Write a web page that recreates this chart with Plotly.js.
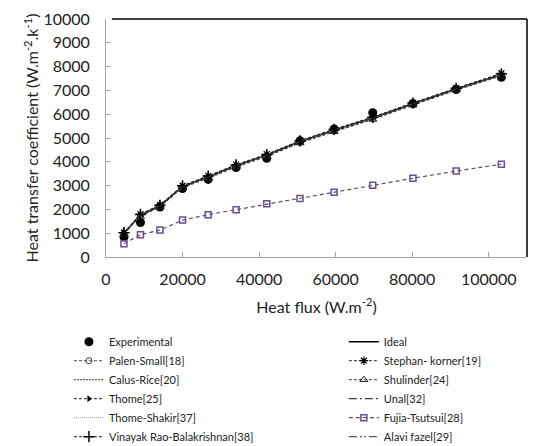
<!DOCTYPE html>
<html>
<head>
<meta charset="utf-8">
<script src="https://cdn.plot.ly/plotly-3.0.1.min.js"></script>
<style>html,body{margin:0;padding:0;background:#fff}#chart{width:544px;height:446px}</style>
</head>
<body>
<div id="chart"></div>
<script>
// Heat flux (W.m-2)
const heatFlux = [4700, 9000, 14100, 20000, 26700, 34000, 42000, 50700, 59600, 69700, 80200, 91500, 103300];
// Heat transfer coefficient (W.m-2.K-1)
const experimental = [840, 1450, 2100, 2880, 3260, 3760, 4150, 4880, 5380, 6060, 6440, 7040, 7550];
const ideal        = [1000, 1760, 2150, 2960, 3370, 3840, 4280, 4850, 5330, 5840, 6440, 7060, 7660];
const palenSmall   = [980, 1730, 2120, 2930, 3340, 3810, 4250, 4810, 5290, 5800, 6400, 7030, 7640];
const stephanKorner= [1030, 1800, 2190, 3000, 3410, 3880, 4320, 4890, 5370, 5880, 6480, 7100, 7720];
const calusRice    = [990, 1750, 2140, 2950, 3360, 3830, 4270, 4840, 5320, 5830, 6430, 7050, 7650];
const shulinder    = [960, 1710, 2100, 2910, 3310, 3780, 4220, 4790, 5260, 5780, 6380, 7010, 7610];
const thome        = [1010, 1770, 2160, 2970, 3380, 3850, 4290, 4860, 5340, 5850, 6450, 7070, 7670];
const unal         = [1000, 1770, 2150, 2960, 3370, 3840, 4280, 4850, 5330, 5850, 6440, 7060, 7660];
const thomeShakir  = [990, 1760, 2150, 2950, 3360, 3840, 4270, 4850, 5330, 5840, 6440, 7050, 7650];
const fujiaTsutsui = [560, 940, 1130, 1550, 1780, 1990, 2240, 2460, 2720, 3010, 3310, 3610, 3900];
const vinayakRao   = [1020, 1790, 2170, 2990, 3400, 3870, 4300, 4880, 5360, 5870, 6470, 7090, 7700];
const alaviFazel   = [990, 1760, 2150, 2950, 3360, 3840, 4270, 4850, 5330, 5840, 6440, 7060, 7660];

const seriesNames = ['Experimental', 'Ideal', 'Palen-Small[18]', 'Stephan- korner[19]', 'Calus-Rice[20]',
  'Shulinder[24]', 'Thome[25]', 'Unal[32]', 'Thome-Shakir[37]', 'Fujia-Tsutsui[28]',
  'Vinayak Rao-Balakrishnan[38]', 'Alavi fazel[29]'];

const FONT = 'Lato, "Open Sans", sans-serif';

function line(name, y, legendId, lineStyle, marker) {
  const t = {x: heatFlux, y: y, name: name, type: 'scatter', mode: 'lines', line: lineStyle, legend: legendId};
  if (marker) { t.mode = 'lines+markers'; t.marker = marker; }
  return t;
}

const traces = [
  {x: heatFlux, y: experimental, name: seriesNames[0], type: 'scatter', mode: 'markers', legend: 'legend',
   marker: {symbol: 'circle', size: 9, color: '#000'}},
  line(seriesNames[1], ideal, 'legend2', {color: '#000', width: 1.5, dash: 'solid'}),
  line(seriesNames[2], palenSmall, 'legend', {color: '#444', width: 1, dash: '3px,2px'},
       {symbol: 'circle-open', size: 6, color: '#444', line: {width: 1}}),
  line(seriesNames[3], stephanKorner, 'legend2', {color: '#222', width: 1, dash: '3px,2px'},
       {symbol: 'asterisk-open', size: 7, color: '#000', line: {width: 1.2}}),
  line(seriesNames[4], calusRice, 'legend', {color: '#333', width: 1, dash: '2px,1px'}),
  line(seriesNames[5], shulinder, 'legend2', {color: '#333', width: 1, dash: '3px,2px'},
       {symbol: 'triangle-up-open', size: 7, color: '#222', line: {width: 1}}),
  line(seriesNames[6], thome, 'legend', {color: '#222', width: 1, dash: '3px,2px'},
       {symbol: 'triangle-right', size: 6, color: '#000'}),
  line(seriesNames[7], unal, 'legend2', {color: '#000', width: 1, dash: '8px,3px,2px,3px'}),
  line(seriesNames[8], thomeShakir, 'legend', {color: '#999', width: 1, dash: '1px,1px'}),
  line(seriesNames[9], fujiaTsutsui, 'legend2', {color: '#555', width: 1.2, dash: '4px,3px'},
       {symbol: 'square-open', size: 6, color: '#6a4c93', line: {width: 1.5}}),
  line(seriesNames[10], vinayakRao, 'legend', {color: '#222', width: 1, dash: '3px,2px'},
       {symbol: 'cross-thin-open', size: 8, color: '#000', line: {width: 1.5}}),
  line(seriesNames[11], alaviFazel, 'legend2', {color: '#333', width: 1, dash: '8px,3px,2px,2px,2px,3px'})
];

const legendBase = {
  orientation: 'v', xref: 'paper', yref: 'paper', xanchor: 'left', yanchor: 'top',
  y: -0.295, traceorder: 'normal', bgcolor: 'rgba(0,0,0,0)', borderwidth: 0,
  font: {family: FONT, size: 11, color: '#222'}
};

const layout = {
  width: 544, height: 446,
  margin: {l: 106, r: 17, t: 19, b: 189, pad: 0, autoexpand: false},
  paper_bgcolor: '#fff', plot_bgcolor: '#fff',
  font: {family: FONT, color: '#222', size: 14},
  showlegend: true,
  xaxis: {
    range: [0, 110000], tickmode: 'linear', tick0: 0, dtick: 20000, tickformat: 'd', tickangle: 0,
    showgrid: false, zeroline: false, showline: true, linecolor: '#a6a6a6', linewidth: 1,
    ticks: 'inside', ticklen: 5, tickcolor: '#a6a6a6', ticklabelstandoff: 8,
    tickfont: {family: FONT, size: 16, color: '#222'},
    title: {text: 'Heat flux (W.m<sup>-2</sup>)', font: {family: FONT, size: 16, color: '#222'}, standoff: 14}
  },
  yaxis: {
    range: [0, 10000], tickmode: 'linear', tick0: 0, dtick: 1000, tickformat: 'd',
    showgrid: false, zeroline: false, showline: true, linecolor: '#a6a6a6', linewidth: 1,
    ticks: 'inside', ticklen: 5, tickcolor: '#a6a6a6', ticklabelstandoff: 12,
    tickfont: {family: FONT, size: 16, color: '#222'},
    title: {text: 'Heat transfer coefficient (W.m<sup>-2</sup>.k<sup>-1</sup>)', font: {family: FONT, size: 16, color: '#222'}, standoff: 0}
  },
  legend: Object.assign({}, legendBase, {x: -0.088}),
  legend2: Object.assign({}, legendBase, {x: 0.565}),
  shapes: [
    {type: 'line', xref: 'paper', yref: 'paper', x0: 0.014, x1: 1, y0: 1, y1: 1, line: {color: '#000', width: 1.5}},
    {type: 'line', xref: 'paper', yref: 'paper', x0: 1, x1: 1, y0: 0, y1: 1, line: {color: '#000', width: 1.5}}
  ]
};

Plotly.newPlot('chart', traces, layout, {displayModeBar: false, staticPlot: true});
</script>
</body>
</html>
